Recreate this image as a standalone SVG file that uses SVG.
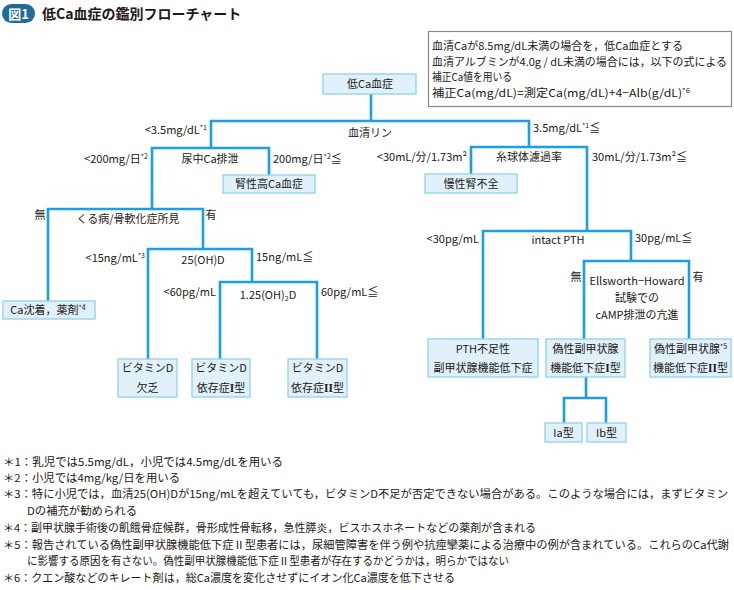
<svg xmlns="http://www.w3.org/2000/svg" width="734" height="590" viewBox="0 0 734 590">
<style>
.t{font-family:"Noto Sans CJK JP","Noto Sans",sans-serif;font-size:11px;fill:#231815}
.m{text-anchor:middle}
.e{text-anchor:end}
.n{fill:#e0f1fb;stroke:#93d0f0;stroke-width:1.3}
.c{fill:none;stroke:#1a9fe6;stroke-width:2.6;stroke-linejoin:miter}
.s{font-size:7px}
.r{font-family:"Liberation Serif",serif;font-weight:bold;font-size:11.5px}
.f{font-family:"Noto Sans CJK JP","Noto Sans",sans-serif;font-size:11px;fill:#231815}
</style>
<rect width="734" height="590" fill="#ffffff"/>
<g id="title">
<rect x="2" y="4" width="33" height="19" rx="9.5" fill="#1d6c9b"/>
<text x="18.5" y="18.5" class="t m" style="font-size:13px;font-weight:bold;fill:#ffffff">図1</text>
<text x="42" y="19" class="t" style="font-size:14px;font-weight:bold">低Ca血症の鑑別フローチャート</text>
</g>
<g id="infobox">
<rect x="428.5" y="31.5" width="303" height="75" fill="#ffffff" stroke="#8a8a8a" stroke-width="1.2"/>
<text x="432" y="50" class="t" textLength="251" lengthAdjust="spacingAndGlyphs">血清Caが8.5mg/dL未満の場合を，低Ca血症とする</text>
<text x="432" y="65.5" class="t" textLength="295" lengthAdjust="spacingAndGlyphs">血清アルブミンが4.0g / dL未満の場合には，以下の式による</text>
<text x="432" y="81" class="t" textLength="80" lengthAdjust="spacingAndGlyphs">補正Ca値を用いる</text>
<text x="432" y="96.5" class="t" textLength="258" lengthAdjust="spacingAndGlyphs">補正Ca(mg/dL)=測定Ca(mg/dL)+4−Alb(g/dL)<tspan class="s" dy="-4">*6</tspan></text>
</g>
<g id="connectors">
<path class="c" d="M371 94 V121"/>
<path class="c" d="M211 148 V121 H529 V147"/>
<path class="c" d="M152 209 V148 H269 V175"/>
<path class="c" d="M471 174 V147 H587 V231"/>
<path class="c" d="M48 301 V209 H203 V249"/>
<path class="c" d="M148 359 V249 H252 V282"/>
<path class="c" d="M220 359 V282 H317 V359"/>
<path class="c" d="M483 339 V231 H631 V261"/>
<path class="c" d="M584 339 V261 H689 V339"/>
<path class="c" d="M586 377 V398"/>
<path class="c" d="M564 423 V398 H606 V423"/>
</g>
<g id="labels">
<text x="207" y="134" class="t e">&lt;3.5mg/dL<tspan class="s" dy="-4">*1</tspan></text>
<text x="370" y="137" class="t m">血清リン</text>
<text x="533" y="132" class="t">3.5mg/dL<tspan class="s" dy="-4">*1</tspan><tspan dy="4">≦</tspan></text>
<text x="148" y="163" class="t e">&lt;200mg/日<tspan class="s" dy="-4">*2</tspan></text>
<text x="210" y="163" class="t m">尿中Ca排泄</text>
<text x="273" y="163" class="t">200mg/日<tspan class="s" dy="-4">*2</tspan><tspan dy="4">≦</tspan></text>
<text x="467" y="161" class="t e">&lt;30mL/分/1.73m²</text>
<text x="529" y="161" class="t m">糸球体濾過率</text>
<text x="592" y="161" class="t">30mL/分/1.73m²≦</text>
<text x="40" y="219" class="t m">無</text>
<text x="211" y="219" class="t m">有</text>
<text x="128" y="223" class="t m">くる病/骨軟化症所見</text>
<text x="145" y="262" class="t e">&lt;15ng/mL<tspan class="s" dy="-4">*3</tspan></text>
<text x="203" y="264" class="t m">25(OH)D</text>
<text x="256" y="261" class="t">15ng/mL≦</text>
<text x="216" y="296" class="t e">&lt;60pg/mL</text>
<text x="268" y="299" class="t m">1.25(OH)<tspan class="s" dy="2">2</tspan><tspan dy="-2">D</tspan></text>
<text x="321" y="296" class="t">60pg/mL≦</text>
<text x="479" y="243" class="t e">&lt;30pg/mL</text>
<text x="558" y="244" class="t m">intact PTH</text>
<text x="635" y="242" class="t">30pg/mL≦</text>
<text x="576" y="281" class="t m">無</text>
<text x="698" y="281" class="t m">有</text>
<text x="637" y="285" class="t m">Ellsworth−Howard</text>
<text x="637" y="302" class="t m">試験での</text>
<text x="637" y="319" class="t m">cAMP排泄の亢進</text>
</g>
<g id="n-hypoca"><rect class="n" x="323" y="74" width="93" height="20"/><text x="370" y="88" class="t m">低Ca血症</text></g>
<g id="n-renal"><rect class="n" x="223" y="175" width="92" height="18"/><text x="269" y="188" class="t m">腎性高Ca血症</text></g>
<g id="n-ckd"><rect class="n" x="425" y="174" width="92" height="19"/><text x="471" y="188" class="t m">慢性腎不全</text></g>
<g id="n-cadep"><rect class="n" x="3" y="301" width="92" height="18"/><text x="48" y="314" class="t m">Ca沈着，薬剤<tspan class="s" dy="-4">*4</tspan></text></g>
<g id="n-vdd"><rect class="n" x="118" y="359" width="59" height="38"/><text x="147.5" y="372" class="t m">ビタミンD</text><text x="147.5" y="392" class="t m">欠乏</text></g>
<g id="n-vddr1"><rect class="n" x="192" y="359" width="58" height="38"/><text x="221" y="372" class="t m">ビタミンD</text><text x="221" y="392" class="t m">依存症<tspan class="r">I</tspan>型</text></g>
<g id="n-vddr2"><rect class="n" x="288" y="359" width="59" height="38"/><text x="317.5" y="372" class="t m">ビタミンD</text><text x="317.5" y="392" class="t m">依存症<tspan class="r">II</tspan>型</text></g>
<g id="n-pthdef"><rect class="n" x="428" y="339" width="110" height="38"/><text x="483" y="353" class="t m">PTH不足性</text><text x="483" y="372" class="t m">副甲状腺機能低下症</text></g>
<g id="n-php1"><rect class="n" x="546" y="339" width="79" height="38"/><text x="585.5" y="353" class="t m">偽性副甲状腺</text><text x="585.5" y="372" class="t m">機能低下症<tspan class="r">I</tspan>型</text></g>
<g id="n-php2"><rect class="n" x="650" y="339" width="81" height="38"/><text x="690.5" y="353" class="t m">偽性副甲状腺<tspan class="s" dy="-4">*5</tspan></text><text x="690.5" y="372" class="t m">機能低下症<tspan class="r">II</tspan>型</text></g>
<g id="n-ia"><rect class="n" x="545" y="423" width="37" height="19"/><text x="563.5" y="437" class="t m">Ia型</text></g>
<g id="n-ib"><rect class="n" x="587" y="423" width="39" height="19"/><text x="606.5" y="437" class="t m">Ib型</text></g>
<g id="footnotes">
<text x="3" y="466" class="f" textLength="280" lengthAdjust="spacingAndGlyphs">＊1：乳児では5.5mg/dL，小児では4.5mg/dLを用いる</text>
<text x="3" y="482" class="f" textLength="177" lengthAdjust="spacingAndGlyphs">＊2：小児では4mg/kg/日を用いる</text>
<text x="3" y="498" class="f" textLength="725" lengthAdjust="spacingAndGlyphs">＊3：特に小児では，血清25(OH)Dが15ng/mLを超えていても，ビタミンD不足が否定できない場合がある。このような場合には，まずビタミン</text>
<text x="27" y="515" class="f" textLength="110" lengthAdjust="spacingAndGlyphs">Dの補充が勧められる</text>
<text x="3" y="532" class="f" textLength="533" lengthAdjust="spacingAndGlyphs">＊4：副甲状腺手術後の飢餓骨症候群，骨形成性骨転移，急性膵炎，ビスホスホネートなどの薬剤が含まれる</text>
<text x="3" y="549" class="f" textLength="726" lengthAdjust="spacingAndGlyphs">＊5：報告されている偽性副甲状腺機能低下症Ⅱ型患者には，尿細管障害を伴う例や抗痙攣薬による治療中の例が含まれている。これらのCa代謝</text>
<text x="27" y="565" class="f" textLength="482" lengthAdjust="spacingAndGlyphs">に影響する原因を有さない。偽性副甲状腺機能低下症Ⅱ型患者が存在するかどうかは，明らかではない</text>
<text x="3" y="582" class="f" textLength="452" lengthAdjust="spacingAndGlyphs">＊6：クエン酸などのキレート剤は，総Ca濃度を変化させずにイオン化Ca濃度を低下させる</text>
</g>
</svg>
